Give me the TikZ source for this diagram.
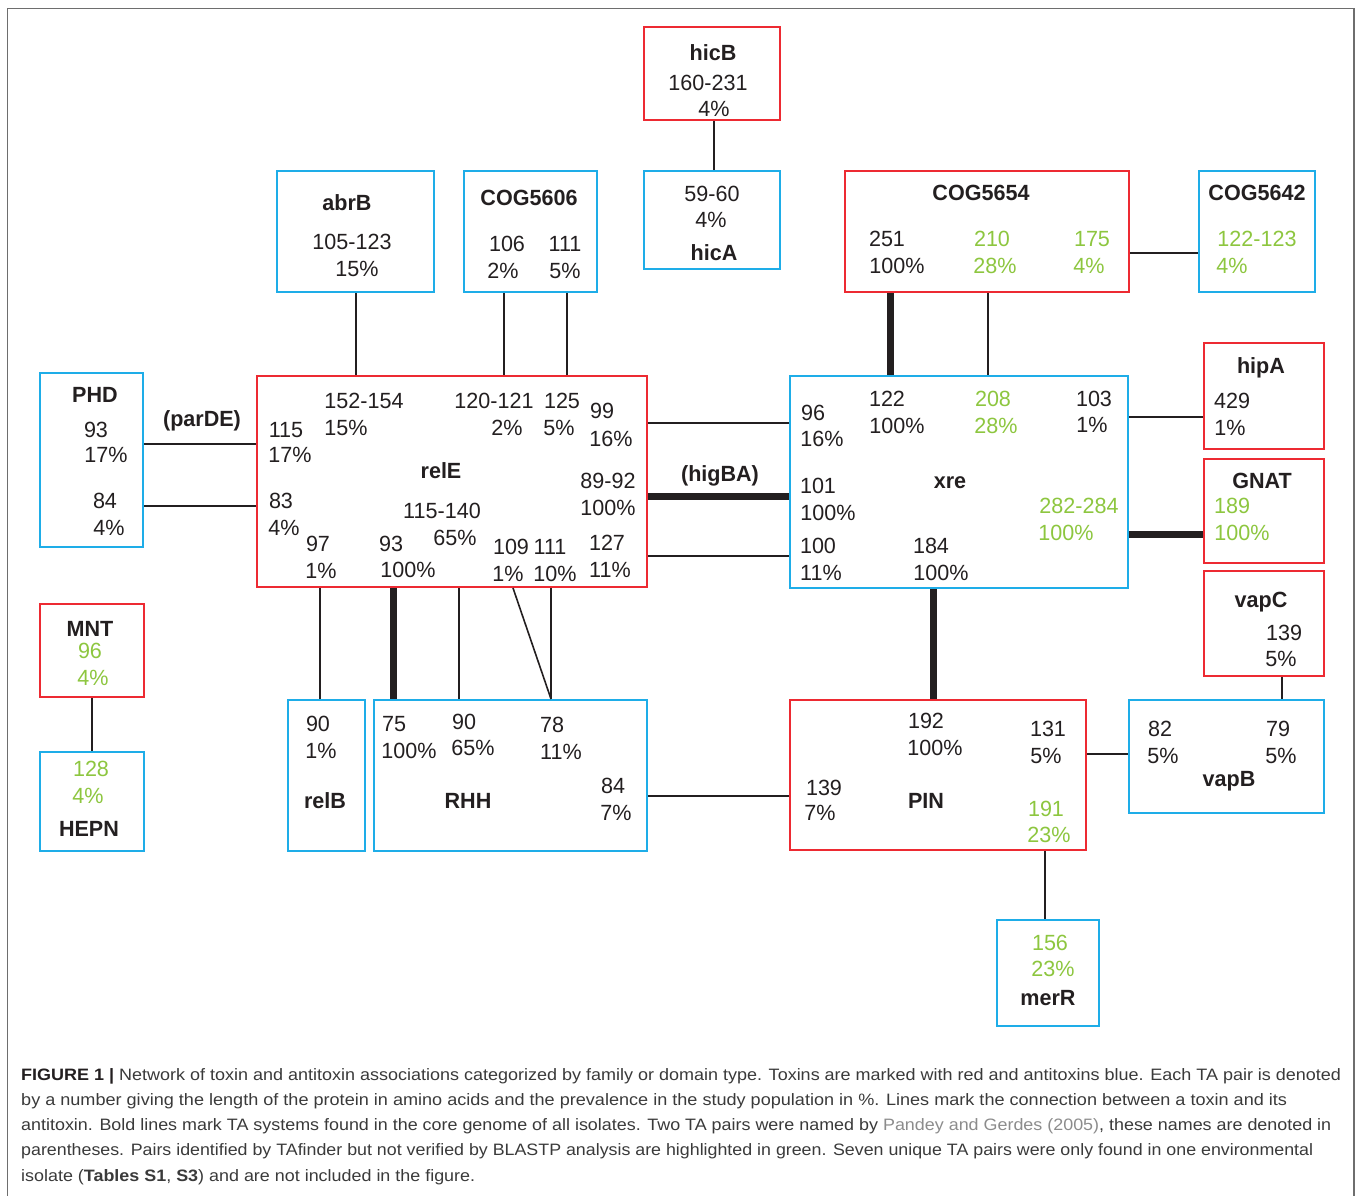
\documentclass[tikz,border=0pt]{standalone}
\usepackage{fontspec}
\setmainfont{Liberation Sans}
\usepackage{graphicx}
\usetikzlibrary{fit}
\definecolor{tred}{HTML}{ED2A32}
\definecolor{tblue}{HTML}{1EADE8}
\definecolor{grn}{HTML}{8DC63F}
\definecolor{ink}{HTML}{231F20}
\definecolor{capt}{HTML}{3A3A3A}
\definecolor{lnk}{HTML}{8C8C8C}
\definecolor{frm}{HTML}{6E6E6E}
\newcommand\fs{\fontsize{22}{26}\selectfont}
\newcommand\sx[1]{\scalebox{0.98}[1]{#1}}
\newcommand\cl[2]{\resizebox{#1pt}{\height}{#2}}
\begin{document}
\begin{tikzpicture}[x=1pt,y=-1pt,
  box/.style={draw, line width=2pt, inner sep=0pt},
  rbox/.style={box, draw=tred},
  bbox/.style={box, draw=tblue},
  ln/.style={draw=ink, line width=1.6pt},
  thk/.style={draw=ink, line width=7pt},
  tx/.style={anchor=base, inner sep=0pt, font=\fs, text=ink},
  gx/.style={tx, text=grn},
  bx/.style={tx, font=\fs\bfseries},
  captxt/.style={anchor=base west, inner sep=0pt, font=\fontsize{16.5}{20}\selectfont, text=capt}]
\useasboundingbox (0,0) rectangle (1358,1195);
\draw[frm, line width=1.5pt] (7.5,1200) -- (7.5,8.5) -- (1354,8.5) -- (1354,1200);

% boxes
\node[rbox, fit={(644,27) (780,120)}] (hicB) {};
\node[bbox, fit={(644,171) (780,269)}] (hicA) {};
\node[bbox, fit={(277,171) (434,292)}] (abrB) {};
\node[bbox, fit={(464,171) (597,292)}] (cog6) {};
\node[rbox, fit={(845,171) (1129,292)}] (cog54) {};
\node[bbox, fit={(1199,171) (1315,292)}] (cog42) {};
\node[bbox, fit={(40,373) (143,547)}] (PHD) {};
\node[rbox, fit={(257,376) (647,587)}] (relE) {};
\node[bbox, fit={(790,376) (1128,588)}] (xre) {};
\node[rbox, fit={(1204,343) (1324,449)}] (hipA) {};
\node[rbox, fit={(1204,459) (1324,563)}] (GNAT) {};
\node[rbox, fit={(1204,571) (1324,676)}] (vapC) {};
\node[bbox, fit={(1129,700) (1324,813)}] (vapB) {};
\node[rbox, fit={(40,604) (144,697)}] (MNT) {};
\node[bbox, fit={(40,752) (144,851)}] (HEPN) {};
\node[bbox, fit={(288,700) (365,851)}] (relB) {};
\node[bbox, fit={(374,700) (647,851)}] (RHH) {};
\node[rbox, fit={(790,700) (1086,850)}] (PIN) {};
\node[bbox, fit={(997,920) (1099,1026)}] (merR) {};

% connectors
\draw[ln] (hicB.south -| 714,0) -- (hicA.north -| 714,0);
\draw[ln] (abrB.south -| 356,0) -- (relE.north -| 356,0);
\draw[ln] (cog6.south -| 504,0) -- (relE.north -| 504,0);
\draw[ln] (cog6.south -| 567,0) -- (relE.north -| 567,0);
\draw[thk] (cog54.south -| 890,0) -- (xre.north -| 890,0);
\draw[ln] (cog54.south -| 988,0) -- (xre.north -| 988,0);
\draw[ln] (cog54.east |- 0,253) -- (cog42.west |- 0,253);
\draw[ln] (PHD.east |- 0,444) -- (relE.west |- 0,444);
\draw[ln] (PHD.east |- 0,506) -- (relE.west |- 0,506);
\draw[ln] (relE.east |- 0,423) -- (xre.west |- 0,423);
\draw[thk] (relE.east |- 0,496) -- (xre.west |- 0,496);
\draw[ln] (relE.east |- 0,556) -- (xre.west |- 0,556);
\draw[ln] (xre.east |- 0,417) -- (hipA.west |- 0,417);
\draw[thk] (xre.east |- 0,534) -- (GNAT.west |- 0,534);
\draw[ln] (vapC.south -| 1282,0) -- (vapB.north -| 1282,0);
\draw[ln] (MNT.south -| 92,0) -- (HEPN.north -| 92,0);
\draw[ln] (relE.south -| 320,0) -- (relB.north -| 320,0);
\draw[thk] (relE.south -| 393,0) -- (RHH.north -| 393,0);
\draw[ln] (relE.south -| 459,0) -- (RHH.north -| 459,0);
\draw[ln] (relE.south -| 513,0) -- (RHH.north -| 551,0);
\draw[ln] (relE.south -| 551,0) -- (RHH.north -| 551,0);
\draw[thk] (xre.south -| 933,0) -- (PIN.north -| 933,0);
\draw[ln] (RHH.east |- 0,796) -- (PIN.west |- 0,796);
\draw[ln] (PIN.east |- 0,754) -- (vapB.west |- 0,754);
\draw[ln] (PIN.south -| 1045,0) -- (merR.north -| 1045,0);

% hicB / hicA
\node[bx] (a1) at (713,60) {\sx{hicB}};
\node[tx] (a2) at (708,90) {\sx{160-231}};
\node[tx] (a3) at (714,116) {\sx{4\%}};
\node[tx] (a4) at (712,201) {\sx{59-60}};
\node[tx] (a5) at (711,227) {\sx{4\%}};
\node[bx] (a6) at (714,260) {\sx{hicA}};
% abrB
\node[bx] (b1) at (347,210) {\sx{abrB}};
\node[tx] (b2) at (352,249) {\sx{105-123}};
\node[tx] (b3) at (357,276) {\sx{15\%}};
% COG5606
\node[bx] (c1) at (529,205) {\sx{COG5606}};
\node[tx] (c2) at (507,251) {\sx{106}};
\node[tx] (c3) at (565,251) {\sx{111}};
\node[tx] (c4) at (503,278) {\sx{2\%}};
\node[tx] (c5) at (565,278) {\sx{5\%}};
% COG5654
\node[bx] (d1) at (981,200) {\sx{COG5654}};
\node[tx] (d2) at (887,246) {\sx{251}};
\node[tx] (d3) at (897,273) {\sx{100\%}};
\node[gx] (d4) at (992,246) {\sx{210}};
\node[gx] (d5) at (995,273) {\sx{28\%}};
\node[gx] (d6) at (1092,246) {\sx{175}};
\node[gx] (d7) at (1089,273) {\sx{4\%}};
% COG5642
\node[bx] (e1) at (1257,200) {\sx{COG5642}};
\node[gx] (e2) at (1257,246) {\sx{122-123}};
\node[gx] (e3) at (1232,273) {\sx{4\%}};
% PHD
\node[bx] (f1) at (95,402) {\sx{PHD}};
\node[tx] (f2) at (96,437) {\sx{93}};
\node[tx] (f3) at (106,462) {\sx{17\%}};
\node[tx] (f4) at (105,508) {\sx{84}};
\node[tx] (f5) at (109,535) {\sx{4\%}};
\node[bx] (f6) at (202,426) {\sx{(parDE)}};
% relE
\node[tx] (g1) at (364,408) {\sx{152-154}};
\node[tx] (g2) at (346,435) {\sx{15\%}};
\node[tx] (g3) at (286,437) {\sx{115}};
\node[tx] (g4) at (290,462) {\sx{17\%}};
\node[tx] (g5) at (494,408) {\sx{120-121}};
\node[tx] (g6) at (507,435) {\sx{2\%}};
\node[tx] (g7) at (562,408) {\sx{125}};
\node[tx] (g8) at (559,435) {\sx{5\%}};
\node[tx] (g9) at (602,418) {\sx{99}};
\node[tx] (g10) at (611,446) {\sx{16\%}};
\node[bx] (g11) at (441,478) {\sx{relE}};
\node[tx] (g12) at (608,488) {\sx{89-92}};
\node[tx] (g13) at (608,515) {\sx{100\%}};
\node[tx] (g14) at (281,508) {\sx{83}};
\node[tx] (g15) at (284,535) {\sx{4\%}};
\node[tx] (g16) at (442,518) {\sx{115-140}};
\node[tx] (g17) at (455,545) {\sx{65\%}};
\node[tx] (g18) at (318,551) {\sx{97}};
\node[tx] (g19) at (321,578) {\sx{1\%}};
\node[tx] (g20) at (391,551) {\sx{93}};
\node[tx] (g21) at (408,577) {\sx{100\%}};
\node[tx] (g22) at (511,554) {\sx{109}};
\node[tx] (g23) at (550,554) {\sx{111}};
\node[tx] (g24) at (508,581) {\sx{1\%}};
\node[tx] (g25) at (555,581) {\sx{10\%}};
\node[tx] (g26) at (607,550) {\sx{127}};
\node[tx] (g27) at (610,577) {\sx{11\%}};
\node[bx] (g28) at (720,481) {\sx{(higBA)}};
% xre
\node[tx] (h1) at (813,420) {\sx{96}};
\node[tx] (h2) at (822,446) {\sx{16\%}};
\node[tx] (h3) at (887,406) {\sx{122}};
\node[tx] (h4) at (897,433) {\sx{100\%}};
\node[gx] (h5) at (993,406) {\sx{208}};
\node[gx] (h6) at (996,433) {\sx{28\%}};
\node[tx] (h7) at (1094,406) {\sx{103}};
\node[tx] (h8) at (1092,432) {\sx{1\%}};
\node[tx] (h9) at (818,493) {\sx{101}};
\node[tx] (h10) at (828,520) {\sx{100\%}};
\node[bx] (h11) at (950,488) {\sx{xre}};
\node[gx] (h12) at (1079,513) {\sx{282-284}};
\node[gx] (h13) at (1066,540) {\sx{100\%}};
\node[tx] (h14) at (818,553) {\sx{100}};
\node[tx] (h15) at (821,580) {\sx{11\%}};
\node[tx] (h16) at (931,553) {\sx{184}};
\node[tx] (h17) at (941,580) {\sx{100\%}};
% hipA, GNAT, vapC, vapB
\node[bx] (i1) at (1261,373) {\sx{hipA}};
\node[tx] (i2) at (1232,408) {\sx{429}};
\node[tx] (i3) at (1230,435) {\sx{1\%}};
\node[bx] (j1) at (1262,488) {\sx{GNAT}};
\node[gx] (j2) at (1232,513) {\sx{189}};
\node[gx] (j3) at (1242,540) {\sx{100\%}};
\node[bx] (k1) at (1261,607) {\sx{vapC}};
\node[tx] (k2) at (1284,640) {\sx{139}};
\node[tx] (k3) at (1281,666) {\sx{5\%}};
\node[tx] (l1) at (1160,736) {\sx{82}};
\node[tx] (l2) at (1163,763) {\sx{5\%}};
\node[tx] (l3) at (1278,736) {\sx{79}};
\node[tx] (l4) at (1281,763) {\sx{5\%}};
\node[bx] (l5) at (1229,786) {\sx{vapB}};
% MNT, HEPN
\node[bx] (m1) at (90,636) {\sx{MNT}};
\node[gx] (m2) at (90,658) {\sx{96}};
\node[gx] (m3) at (93,685) {\sx{4\%}};
\node[gx] (m4) at (91,776) {\sx{128}};
\node[gx] (m5) at (88,803) {\sx{4\%}};
\node[bx] (m6) at (89,836) {\sx{HEPN}};
% relB, RHH
\node[tx] (n1) at (318,731) {\sx{90}};
\node[tx] (n2) at (321,758) {\sx{1\%}};
\node[bx] (n3) at (325,808) {\sx{relB}};
\node[tx] (o1) at (394,731) {\sx{75}};
\node[tx] (o2) at (409,758) {\sx{100\%}};
\node[tx] (o3) at (464,729) {\sx{90}};
\node[tx] (o4) at (473,755) {\sx{65\%}};
\node[tx] (o5) at (552,732) {\sx{78}};
\node[tx] (o6) at (561,759) {\sx{11\%}};
\node[bx] (o7) at (468,808) {\sx{RHH}};
\node[tx] (o8) at (613,793) {\sx{84}};
\node[tx] (o9) at (616,820) {\sx{7\%}};
% PIN
\node[tx] (p1) at (926,728) {\sx{192}};
\node[tx] (p2) at (935,755) {\sx{100\%}};
\node[tx] (p3) at (1048,736) {\sx{131}};
\node[tx] (p4) at (1046,763) {\sx{5\%}};
\node[tx] (p5) at (824,795) {\sx{139}};
\node[tx] (p6) at (820,820) {\sx{7\%}};
\node[bx] (p7) at (926,808) {\sx{PIN}};
\node[gx] (p8) at (1046,816) {\sx{191}};
\node[gx] (p9) at (1049,842) {\sx{23\%}};
% merR
\node[gx] (q1) at (1050,950) {\sx{156}};
\node[gx] (q2) at (1053,976) {\sx{23\%}};
\node[bx] (q3) at (1048,1005) {\sx{merR}};

% caption
\node[captxt] (cap1) at (21,1080) {\cl{1320}{{\bfseries\color{ink}FIGURE 1 |} Network of toxin and antitoxin associations categorized by family or domain type. Toxins are marked with red and antitoxins blue. Each TA pair is denoted}};
\node[captxt] (cap2) at (21,1105) {\cl{1266}{by a number giving the length of the protein in amino acids and the prevalence in the study population in \%. Lines mark the connection between a toxin and its}};
\node[captxt] (cap3) at (21,1130) {\cl{1310}{antitoxin. Bold lines mark TA systems found in the core genome of all isolates. Two TA pairs were named by {\color{lnk}Pandey and Gerdes (2005)}, these names are denoted in}};
\node[captxt] (cap4) at (21,1155) {\cl{1292}{parentheses. Pairs identified by TAfinder but not verified by BLASTP analysis are highlighted in green. Seven unique TA pairs were only found in one environmental}};
\node[captxt] (cap5) at (21,1181) {\cl{454}{isolate ({\bfseries Tables S1}, {\bfseries S3}) and are not included in the figure.}};
\end{tikzpicture}
\end{document}
